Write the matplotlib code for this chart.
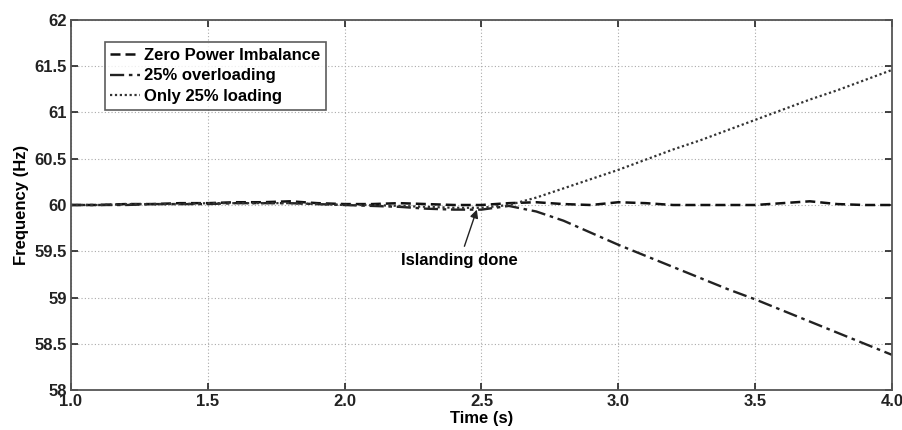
import matplotlib
matplotlib.use("Agg")
import matplotlib.pyplot as plt
from matplotlib.ticker import FormatStrFormatter, FuncFormatter

plt.rcParams['font.family'] = ['Liberation Sans', 'DejaVu Sans']

time_s = [1.0, 1.1, 1.2, 1.3, 1.4, 1.5, 1.6, 1.7, 1.8, 1.9, 2.0,
          2.1, 2.2, 2.3, 2.4, 2.5, 2.6, 2.7, 2.8, 2.9, 3.0,
          3.1, 3.2, 3.3, 3.4, 3.5, 3.6, 3.7, 3.8, 3.9, 4.0]

zero_imbalance = [60.00, 60.00, 60.01, 60.01, 60.02, 60.02, 60.03, 60.03, 60.04, 60.02, 60.01,
                  60.01, 60.02, 60.01, 60.00, 60.00, 60.02, 60.03, 60.01, 60.00, 60.03,
                  60.02, 60.00, 60.00, 60.00, 60.00, 60.02, 60.04, 60.01, 60.00, 60.00]

overloading_25 = [60.00, 60.00, 60.00, 60.01, 60.01, 60.01, 60.02, 60.02, 60.02, 60.01, 60.00,
                  59.99, 59.98, 59.96, 59.95, 59.95, 59.99, 59.93, 59.83, 59.70, 59.57,
                  59.45, 59.33, 59.21, 59.09, 58.98, 58.86, 58.74, 58.62, 58.50, 58.38]

only_loading_25 = [60.00, 60.00, 60.01, 60.01, 60.01, 60.02, 60.02, 60.02, 60.02, 60.01, 60.00,
                   60.00, 59.99, 59.98, 59.97, 59.97, 60.00, 60.08, 60.18, 60.28, 60.38,
                   60.49, 60.60, 60.70, 60.81, 60.92, 61.03, 61.14, 61.24, 61.35, 61.46]

x_ticks = [1.0, 1.5, 2.0, 2.5, 3.0, 3.5, 4.0]
y_ticks = [58, 58.5, 59, 59.5, 60, 60.5, 61, 61.5, 62]

fig = plt.figure(figsize=(9.03, 4.30), dpi=100)
ax = fig.add_axes([0.0786, 0.093, 0.9092, 0.8605])

ax.plot(time_s, zero_imbalance, linestyle=(0, (4, 2)), color='#111111', lw=1.8,
        label='Zero Power Imbalance')
ax.plot(time_s, overloading_25, linestyle=(0, (6, 2, 1.5, 2)), color='#222222', lw=1.7,
        label='25% overloading')
ax.plot(time_s, only_loading_25, linestyle=(0, (1, 1.2)), color='#333333', lw=1.6,
        label='Only 25% loading')

ax.set_xlim(1.0, 4.0)
ax.set_ylim(58, 62)
ax.set_xticks(x_ticks)
ax.set_yticks(y_ticks)
ax.xaxis.set_major_formatter(FormatStrFormatter('%.1f'))
ax.yaxis.set_major_formatter(FuncFormatter(lambda v, p: f'{v:g}'))
ax.tick_params(direction='in', length=5, width=1.2, labelsize=12, pad=3,
               top=True, right=True, colors='#222222')
for lbl in ax.get_xticklabels() + ax.get_yticklabels():
    lbl.set_fontweight('bold')

ax.grid(True, linestyle=(0, (1, 2)), color='#aaaaaa', linewidth=0.8)
for s in ax.spines.values():
    s.set_color('#555555')
    s.set_linewidth(1.3)

ax.set_xlabel('Time (s)', fontsize=12, fontweight='bold', labelpad=1)
ax.set_ylabel('Frequency (Hz)', fontsize=12, fontweight='bold', labelpad=4)

leg = ax.legend(loc='upper left', bbox_to_anchor=(0.041, 0.94), borderaxespad=0,
                fancybox=False, frameon=True, handlelength=1.8, handletextpad=0.2,
                labelspacing=0.32, borderpad=0.35, prop={'size': 12, 'weight': 'bold'})
leg.get_frame().set_edgecolor('#333333')
leg.get_frame().set_linewidth(1.2)

ax.annotate('Islanding done', xy=(2.483, 59.95), xytext=(2.42, 59.40),
            fontsize=12, fontweight='bold', ha='center', va='center',
            arrowprops=dict(arrowstyle='-|>', color='#222222', lw=1.0,
                            shrinkA=3, shrinkB=0, mutation_scale=12))

fig.savefig('out.png', dpi=100)
